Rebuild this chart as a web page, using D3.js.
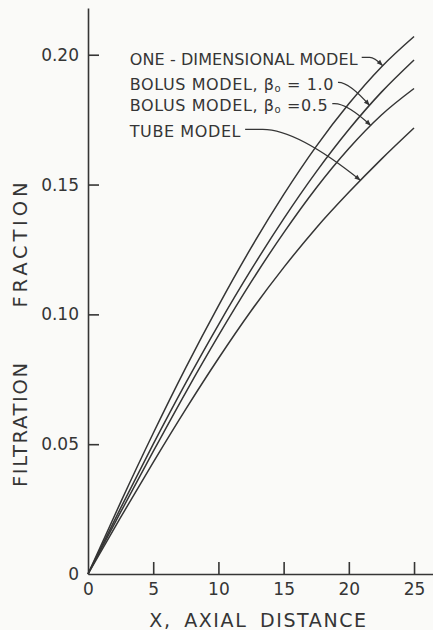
<!DOCTYPE html>
<html>
<head>
<meta charset="utf-8">
<script src="https://cdn.jsdelivr.net/npm/d3@7"></script>
<style>
html, body { margin: 0; padding: 0; background: #fafaf8; }
svg { display: block; font-family: "DejaVu Sans", sans-serif; }
</style>
</head>
<body>
<svg id="chart" width="433" height="630"></svg>
<script>
"use strict";

// axial distance where the curves were read
const xValues = [0, 2.5, 5, 7.5, 10, 12.5, 15, 17.5, 20, 22.5, 25];

// filtration fraction
const oneDimensional = [0, 0.0276, 0.0542, 0.0795, 0.1033, 0.1256, 0.1461, 0.1647, 0.1811, 0.1953, 0.2070];
const bolusBeta10   = [0, 0.0254, 0.0500, 0.0736, 0.0960, 0.1171, 0.1368, 0.1549, 0.1712, 0.1856, 0.1980];
const bolusBeta05   = [0, 0.0238, 0.0472, 0.0700, 0.0918, 0.1124, 0.1314, 0.1487, 0.1639, 0.1768, 0.1870];
const tubeModel     = [0, 0.0218, 0.0430, 0.0635, 0.0830, 0.1013, 0.1180, 0.1333, 0.1470, 0.1598, 0.1718];

const xTicks = [0, 5, 10, 15, 20, 25];
const xTickLabels = ["0", "5", "10", "15", "20", "25"];
const yTicks = [0, 0.05, 0.10, 0.15, 0.20];
const yTickLabels = ["0", "0.05", "0.10", "0.15", "0.20"];

const seriesNames = ["ONE - DIMENSIONAL MODEL", "BOLUS MODEL, β", "BOLUS MODEL, β", "TUBE MODEL"];
const seriesBeta = ["", "= 1.0", "=0.5", ""];
const series = [oneDimensional, bolusBeta10, bolusBeta05, tubeModel];

// annotation anchors, in data units
const labelX = [3.2, 3.2, 3.2, 3.2];
const labelY = [0.198, 0.1884, 0.1802, 0.1703];
const elbowX = [21.6, 19.2, 18.9, 13.4];
const tipX = [22.6, 21.6, 21.7, 20.9];

const xTitle = "X, AXIAL DISTANCE";
const yTitleWords = ["FILTRATION", "FRACTION"];

const ink = "#353535";

let svg = d3.select("#chart");

let x = d3.scaleLinear()
          .domain([0, 26.5])
          .range([88, 433.6]);
let y = d3.scaleLinear()
          .domain([0, 0.218])
          .range([574, 8]);

/**
 * Linear lookup of a curve at a given x, used only to aim the leader arrows
 */
function valueAt(values, xv)
{
    for (let i = 1; i < xValues.length; i++)
    {
        if (xv <= xValues[i])
        {
            let t = (xv - xValues[i - 1]) / (xValues[i] - xValues[i - 1]);
            return values[i - 1] + t * (values[i] - values[i - 1]);
        }
    }
    return values[values.length - 1];
}

// axes
let xAxis = svg.append("g")
               .attr("transform", "translate(0," + y(0) + ")")
               .call(d3.axisBottom(x)
                       .tickValues(xTicks)
                       .tickFormat((d, i) => xTickLabels[i])
                       .tickSizeInner(-12)
                       .tickSizeOuter(0)
                       .tickPadding(9));

let yAxis = svg.append("g")
               .attr("transform", "translate(" + x(0) + ",0)")
               .call(d3.axisLeft(y)
                       .tickValues(yTicks)
                       .tickFormat((d, i) => yTickLabels[i])
                       .tickSizeInner(-11)
                       .tickSizeOuter(0)
                       .tickPadding(9));

// the zero ticks would lie on the other axis
xAxis.selectAll(".tick").filter(d => d === 0).select("line").remove();
yAxis.selectAll(".tick").filter(d => d === 0).select("line").remove();

svg.selectAll(".domain, .tick line")
   .attr("stroke", ink)
   .attr("stroke-width", 1.6);
svg.selectAll(".tick text")
   .attr("fill", ink)
   .attr("font-family", "DejaVu Sans, sans-serif")
   .attr("font-size", 17);

// curves
let line = d3.line()
             .x((d, i) => x(xValues[i]))
             .y(d => y(d))
             .curve(d3.curveMonotoneX);

svg.append("g")
   .selectAll("path")
   .data(series)
   .join("path")
   .attr("fill", "none")
   .attr("stroke", ink)
   .attr("stroke-width", 1.5)
   .attr("d", line);

// arrow head for the leaders
svg.append("defs")
   .append("marker")
   .attr("id", "arrow")
   .attr("viewBox", "0 0 10 10")
   .attr("refX", 10)
   .attr("refY", 5)
   .attr("markerWidth", 8)
   .attr("markerHeight", 6)
   .attr("markerUnits", "userSpaceOnUse")
   .attr("orient", "auto")
   .append("path")
   .attr("d", "M0,1 L10,5 L0,9 Z")
   .attr("fill", ink);

// labels and leaders
let labels = svg.append("g")
                .attr("fill", ink)
                .attr("font-size", 16);

for (let i = 0; i < series.length; i++)
{
    let t = labels.append("text")
                  .attr("x", x(labelX[i]))
                  .attr("y", y(labelY[i]))
                  .attr("dominant-baseline", "middle")
                  .attr("letter-spacing", i === 0 ? 0.1 : 0.6);
    t.append("tspan").text(seriesNames[i]);
    if (seriesBeta[i])
    {
        t.append("tspan").attr("font-size", 10).attr("dy", 4).text("o");
        t.append("tspan").attr("dy", -4).text(" " + seriesBeta[i]);
    }

    let endX = x(labelX[i]) + t.node().getComputedTextLength() + 4;
    let ly = y(labelY[i]) - 2.5;
    let ex = x(elbowX[i]);
    let tx = x(tipX[i]);
    let ty = y(valueAt(series[i], tipX[i]));
    let cx = ex + 0.35 * (tx - ex);

    svg.append("path")
       .attr("fill", "none")
       .attr("stroke", ink)
       .attr("stroke-width", 1.2)
       .attr("marker-end", "url(#arrow)")
       .attr("d", "M" + endX + "," + ly + " L" + ex + "," + ly + " Q" + cx + "," + ly + " " + tx + "," + ty);
}

// axis titles
svg.append("text")
   .attr("x", 258.5)
   .attr("y", 627)
   .attr("text-anchor", "middle")
   .attr("fill", ink)
   .attr("font-size", 19)
   .attr("letter-spacing", 1.6)
   .attr("word-spacing", 5)
   .text(xTitle);

// y title, one word at a time so each gets its own span
let yTitleCenters = [425, 245];
let yTitleLengths = [124, 125];
yTitleWords.forEach((w, i) =>
{
    svg.append("text")
       .attr("transform", "translate(27," + yTitleCenters[i] + ") rotate(-90)")
       .attr("text-anchor", "middle")
       .attr("fill", ink)
       .attr("font-size", 19.5)
       .attr("textLength", yTitleLengths[i])
       .attr("lengthAdjust", "spacing")
       .text(w);
});
</script>
</body>
</html>
